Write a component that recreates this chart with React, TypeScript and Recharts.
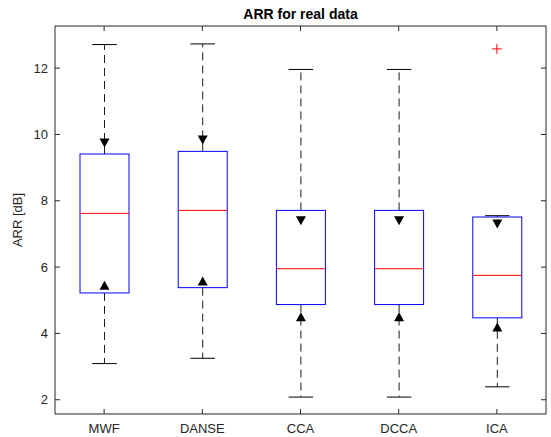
import { ComposedChart, Bar, Line, XAxis, YAxis } from "recharts";

const categories = ["MWF", "DANSE", "CCA", "DCCA", "ICA"];
const lowerWhisker = [3.09, 3.25, 2.08, 2.08, 2.39];
const q1 = [5.22, 5.38, 4.87, 4.87, 4.47];
const median = [7.62, 7.71, 5.95, 5.95, 5.75];
const q3 = [9.41, 9.49, 7.71, 7.71, 7.51];
const upperWhisker = [12.71, 12.73, 11.96, 11.96, 7.55];
const notchLow = [5.45, 5.58, 4.5, 4.5, 4.19];
const notchHigh = [9.74, 9.83, 7.4, 7.4, 7.3];
const outliers: (number | null)[] = [null, null, null, null, 12.58];
const yTicks = [2, 4, 6, 8, 10, 12];

const data = categories.map((name, i) => ({
  name,
  lowerWhisker: lowerWhisker[i],
  q1: q1[i],
  median: median[i],
  q3: q3[i],
  upperWhisker: upperWhisker[i],
  notchLow: notchLow[i],
  notchHigh: notchHigh[i],
  outlier: outliers[i],
}));

const AXIS = "#262626";
const FONT = "'Liberation Sans', Arial, Helvetica, sans-serif";
const TICK = 5;

function BoxShape(props: any) {
  const { x, y, width, height, payload } = props;
  const top = Math.min(y, y + height);
  const bot = Math.max(y, y + height);
  const lo = payload.lowerWhisker;
  const hi = payload.upperWhisker;
  const py = (v: number) => bot - ((v - lo) / (hi - lo)) * (bot - top);
  const cx = x + width / 2;
  const cap = width / 4;
  const yq1 = py(payload.q1);
  const yq3 = py(payload.q3);
  const ym = py(payload.median);
  const yHi = py(payload.notchHigh);
  const yLo = py(payload.notchLow);
  const tw = 5;
  const th = 4.5;
  return (
    <g>
      <line x1={cx} x2={cx} y1={yq3} y2={top} stroke="#000" strokeWidth={0.9} strokeDasharray="8 5" />
      <line x1={cx} x2={cx} y1={yq1} y2={bot} stroke="#000" strokeWidth={0.9} strokeDasharray="8 5" />
      <line x1={cx - cap} x2={cx + cap} y1={top} y2={top} stroke="#000" strokeWidth={1} />
      <line x1={cx - cap} x2={cx + cap} y1={bot} y2={bot} stroke="#000" strokeWidth={1} />
      <rect x={x} y={yq3} width={width} height={yq1 - yq3} fill="none" stroke="#0000ff" strokeWidth={1} />
      <line x1={x} x2={x + width} y1={ym} y2={ym} stroke="#ff0000" strokeWidth={1} />
      <polygon points={`${cx - tw},${yHi - th} ${cx + tw},${yHi - th} ${cx},${yHi + th}`} fill="#000" />
      <polygon points={`${cx - tw},${yLo + th} ${cx + tw},${yLo + th} ${cx},${yLo - th}`} fill="#000" />
    </g>
  );
}

function OutlierDot(props: any) {
  const { cx, cy, payload } = props;
  if (payload.outlier == null || cx == null || cy == null) return null;
  return (
    <g>
      <line x1={cx - 5} x2={cx + 5} y1={cy} y2={cy} stroke="#ff0000" strokeWidth={1} />
      <line x1={cx} x2={cx} y1={cy - 5} y2={cy + 5} stroke="#ff0000" strokeWidth={1} />
    </g>
  );
}

const LEFT_MARGIN = 7;
function LeftTick(props: any) {
  const { x, y, payload } = props;
  const ax = x + LEFT_MARGIN;
  return (
    <g>
      <line x1={ax} x2={ax + TICK} y1={y} y2={y} stroke={AXIS} />
      <text x={x} y={y} dy="0.35em" textAnchor="end" fill={AXIS} fontSize={13} fontFamily={FONT}>
        {payload.value}
      </text>
    </g>
  );
}

function RightTick(props: any) {
  const { x, y } = props;
  return <line x1={x - TICK} x2={x} y1={y} y2={y} stroke={AXIS} />;
}

const BOTTOM_MARGIN = 10;
function BottomTick(props: any) {
  const { x, y, payload } = props;
  const ay = y - BOTTOM_MARGIN;
  return (
    <g>
      <line x1={x} x2={x} y1={ay} y2={ay - TICK} stroke={AXIS} />
      <text x={x} y={y} dy="0.71em" textAnchor="middle" fill={AXIS} fontSize={13} fontFamily={FONT}>
        {payload.value}
      </text>
    </g>
  );
}

function TopTick(props: any) {
  const { x, y } = props;
  return <line x1={x} x2={x} y1={y} y2={y + TICK} stroke={AXIS} />;
}

export default function App() {
  return (
    <div style={{ position: "absolute", left: 0, top: 0, width: 551, height: 437, background: "#fff" }}>
      <div
        style={{
          position: "absolute",
          left: 55,
          width: 491,
          top: 6,
          textAlign: "center",
          fontFamily: FONT,
          fontWeight: "bold",
          fontSize: 14,
          color: "#000",
        }}
      >
        ARR for real data
      </div>
      <ComposedChart width={551} height={437} data={data} margin={{ top: 25, right: 4, bottom: 0, left: 15 }}>
        <XAxis
          xAxisId="b"
          dataKey="name"
          orientation="bottom"
          height={23}
          tickSize={0}
          tickMargin={BOTTOM_MARGIN}
          tickLine={false}
          axisLine={{ stroke: AXIS }}
          tick={<BottomTick />}
        />
        <XAxis
          xAxisId="t"
          dataKey="name"
          orientation="top"
          height={1}
          tickSize={0}
          tickMargin={0}
          tickLine={false}
          axisLine={{ stroke: AXIS }}
          tick={<TopTick />}
        />
        <YAxis
          yAxisId="l"
          type="number"
          domain={[1.57, 13.27]}
          ticks={yTicks}
          allowDataOverflow
          width={40}
          tickSize={0}
          tickMargin={LEFT_MARGIN}
          tickLine={false}
          axisLine={{ stroke: AXIS }}
          tick={<LeftTick />}
          label={{
            value: "ARR [dB]",
            angle: -90,
            position: "insideLeft",
            offset: 2,
            style: { textAnchor: "middle", fill: AXIS, fontSize: 13, fontFamily: FONT },
          }}
        />
        <YAxis
          yAxisId="r"
          orientation="right"
          type="number"
          domain={[1.57, 13.27]}
          ticks={yTicks}
          allowDataOverflow
          width={1}
          tickSize={0}
          tickMargin={0}
          tickLine={false}
          axisLine={{ stroke: AXIS }}
          tick={<RightTick />}
        />
        <Bar
          xAxisId="b"
          yAxisId="l"
          dataKey={(d: any) => [d.lowerWhisker, d.upperWhisker]}
          barSize={49}
          shape={<BoxShape />}
          isAnimationActive={false}
        />
        <Line
          xAxisId="b"
          yAxisId="l"
          dataKey="outlier"
          stroke="none"
          dot={<OutlierDot />}
          activeDot={false}
          isAnimationActive={false}
        />
        <Line
          xAxisId="t"
          yAxisId="r"
          dataKey="median"
          stroke="none"
          dot={false}
          activeDot={false}
          isAnimationActive={false}
        />
      </ComposedChart>
    </div>
  );
}
